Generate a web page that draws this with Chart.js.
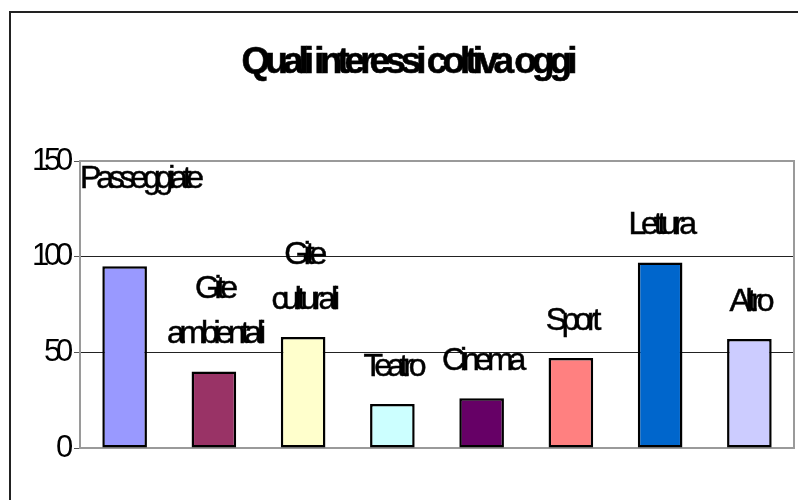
<!DOCTYPE html>
<html>
<head>
<meta charset="utf-8">
<script src="https://cdn.jsdelivr.net/npm/chart.js@4"></script>
<style>
  html, body { margin: 0; padding: 0; background: #fff; }
  #wrap { width: 798px; height: 500px; position: relative; }
</style>
</head>
<body>
<div id="wrap"><canvas id="grafico" width="798" height="500"></canvas></div>
<script>
// ===========================
// Dati
// ===========================
const categorie = ["Passeggiate", "Gite ambientali", "Gite culturali", "Teatro", "Cinema", "Sport", "Lettura", "Altro"];
const etichette = [["Passeggiate"], ["Gite", "ambientali"], ["Gite", "culturali"], ["Teatro"], ["Cinema"], ["Sport"], ["Lettura"], ["Altro"]];
const valori = [95, 40, 58, 23, 26, 47, 97, 57];
const colori = ["#9999FF", "#993366", "#FFFFCC", "#CCFFFF", "#660066", "#FF8080", "#0066CC", "#CCCCFF"];
const titolo = "Quali interessi coltiva oggi";
const tickY = [0, 50, 100, 150];

const FONT = "'Liberation Sans', Arial, sans-serif";
const SPAZIO = "-5.2px";

// ===========================
// Plugin: cornice, titolo, etichette
// ===========================
const stilePlugin = {
  id: "stile",
  beforeDraw(chart) {
    const ctx = chart.ctx;
    ctx.save();
    ctx.fillStyle = "#fff";
    ctx.fillRect(0, 0, chart.width, chart.height);
    // cornice esterna
    ctx.strokeStyle = "#222";
    ctx.lineWidth = 2;
    ctx.strokeRect(10, 12, 900, 900);
    // titolo
    ctx.letterSpacing = "-5px";
    ctx.font = "bold 37px " + FONT;
    ctx.fillStyle = "#000";
    ctx.strokeStyle = "#000";
    ctx.lineWidth = 0.6;
    ctx.textAlign = "left";
    ctx.textBaseline = "alphabetic";
    const w = ctx.measureText(titolo).width;
    ctx.fillText(titolo, 407 - w / 2, 73);
    ctx.strokeText(titolo, 407 - w / 2, 73);
    ctx.restore();
    ctx.letterSpacing = SPAZIO;
  },
  beforeDatasetsDraw(chart) {
    const { ctx, chartArea: a } = chart;
    ctx.save();
    ctx.strokeStyle = "#9a9a9a";
    ctx.lineWidth = 2;
    ctx.strokeRect(a.left, a.top, a.right - a.left, a.bottom - a.top);
    ctx.restore();
  },
  afterDatasetsDraw(chart) {
    const { ctx, chartArea: a } = chart;
    const meta = chart.getDatasetMeta(0);
    ctx.save();
    ctx.letterSpacing = SPAZIO;
    ctx.font = "32px " + FONT;
    ctx.fillStyle = "#000";
    ctx.strokeStyle = "#000";
    ctx.lineWidth = 0.5;
    ctx.textBaseline = "middle";
    ctx.textAlign = "left";
    meta.data.forEach((bar, i) => {
      const righe = etichette[i];
      // l'etichetta della prima barra in Excel è stata spostata in alto
      const alza = i === 0 ? 87 : 37;
      righe.forEach((r, k) => {
        const w = ctx.measureText(r).width;
        let x = bar.x - w / 2;
        if (x < a.left) x = a.left;
        const y = bar.y - alza - (righe.length - 1 - k) * 45;
        ctx.fillText(r, x, y);
        ctx.strokeText(r, x, y);
      });
    });
    ctx.restore();
  }
};

const ctx = document.getElementById("grafico").getContext("2d");
new Chart(ctx, {
  type: "bar",
  data: {
    labels: categorie,
    datasets: [{
      data: valori,
      backgroundColor: colori,
      borderColor: "#000",
      borderWidth: 2.5,
      borderSkipped: false,
      barPercentage: 0.5,
      categoryPercentage: 1
    }]
  },
  options: {
    responsive: false,
    animation: false,
    devicePixelRatio: 1,
    layout: { padding: { top: 161, left: 0, right: 4, bottom: 52 } },
    plugins: {
      legend: { display: false },
      tooltip: { enabled: false },
      title: { display: false }
    },
    scales: {
      x: {
        grid: { display: false, drawTicks: false },
        border: { display: false },
        ticks: { display: false }
      },
      y: {
        min: 0,
        max: 150,
        afterBuildTicks: s => { s.ticks = tickY.map(v => ({ value: v })); },
        afterFit: s => { s.width = 80; },
        border: { display: false },
        grid: {
          color: c => (c.tick && (c.tick.value === 50 || c.tick.value === 100)) ? "#222" : "rgba(0,0,0,0)",
          tickColor: "#555",
          tickLength: 6,
          lineWidth: 1
        },
        ticks: {
          color: "#000",
          padding: 6,
          font: { family: FONT, size: 31 }
        }
      }
    }
  },
  plugins: [stilePlugin]
});
</script>
</body>
</html>
